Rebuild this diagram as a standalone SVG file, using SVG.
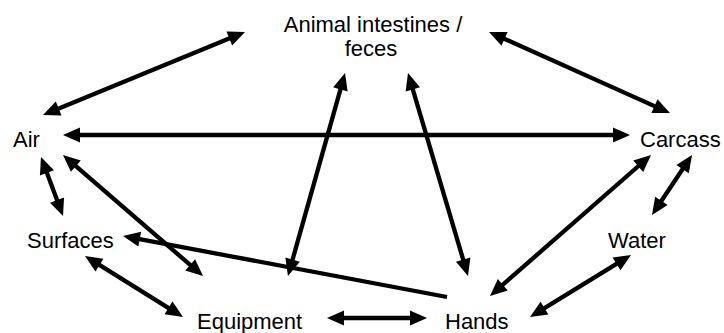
<svg xmlns="http://www.w3.org/2000/svg" width="724" height="333" viewBox="0 0 724 333">
  <style>
    .lbl { font-family: "Liberation Sans", Arial, sans-serif; font-size: 22px; fill: #000; }
    .edge { stroke: #000; stroke-width: 4.3; fill: none; }
    .both { marker-start: url(#ah); marker-end: url(#ah); }
    .one { marker-end: url(#ah); }
  </style>
  <defs>
    <marker id="ah" markerUnits="userSpaceOnUse" markerWidth="17" markerHeight="15" refX="11" refY="7.5" orient="auto-start-reverse" overflow="visible">
      <path d="M0,0 L17,7.5 L0,15 z" fill="#000"/>
    </marker>
  </defs>
  <rect width="724" height="333" fill="#fff"/>
  <g id="connectors">
    <line class="edge both" x1="48.5" y1="112.7" x2="239.5" y2="34.3"/>
    <line class="edge both" x1="69" y1="135" x2="624" y2="135"/>
    <line class="edge both" x1="494.5" y1="34.4" x2="664.5" y2="110.6"/>
    <line class="edge both" x1="343.4" y1="78.8" x2="289.6" y2="270.2"/>
    <line class="edge both" x1="409.7" y1="78.8" x2="466.3" y2="270.2"/>
    <line class="edge one" x1="447" y1="297" x2="128.9" y2="237.1"/>
    <line class="edge both" x1="43.1" y1="162.6" x2="60.9" y2="210.4"/>
    <line class="edge both" x1="67.5" y1="158.9" x2="198.5" y2="272.1"/>
    <line class="edge both" x1="90.1" y1="259.2" x2="177.9" y2="313.8"/>
    <line class="edge both" x1="333" y1="318" x2="421" y2="318"/>
    <line class="edge both" x1="646.5" y1="159" x2="494.5" y2="292"/>
    <line class="edge both" x1="688.7" y1="160" x2="655.3" y2="210"/>
    <line class="edge both" x1="625.9" y1="258.1" x2="535.1" y2="313.9"/>
  </g>
  <g id="animal">
    <text class="lbl" x="373" y="32" text-anchor="middle">Animal intestines /</text>
    <text class="lbl" x="371" y="56" text-anchor="middle">feces</text>
  </g>
  <g id="air"><text class="lbl" x="13" y="147">Air</text></g>
  <g id="carcass"><text class="lbl" x="640" y="147">Carcass</text></g>
  <g id="surfaces"><text class="lbl" x="27" y="248">Surfaces</text></g>
  <g id="water"><text class="lbl" x="608" y="248">Water</text></g>
  <g id="equipment"><text class="lbl" x="197" y="329">Equipment</text></g>
  <g id="hands"><text class="lbl" x="445" y="329">Hands</text></g>
</svg>
